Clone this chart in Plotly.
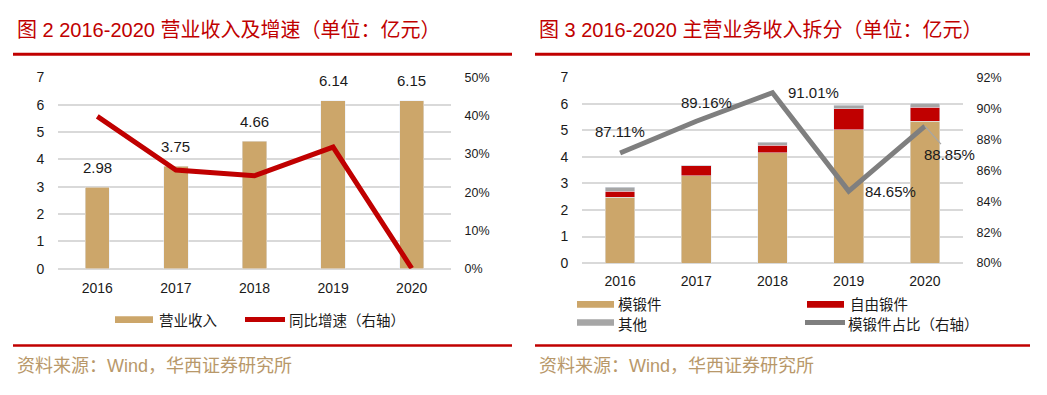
import plotly.graph_objects as go

# page is 1047x395; browser body keeps an 8px margin, so the figure is 1031x379 at (8, 8)
PAGE_W, PAGE_H = 1047, 395
OFF = 8
W, H = PAGE_W - 2 * OFF, PAGE_H - 2 * OFF

# ---------------- data ----------------
years = ["2016", "2017", "2018", "2019", "2020"]
revenue = [2.98, 3.75, 4.66, 6.14, 6.15]            # 营业收入（亿元）
growth = [0.398, 0.258, 0.243, 0.318, 0.0016]       # 同比增速
die_forging = [2.48, 3.29, 4.15, 5.03, 5.35]        # 模锻件
free_forging = [0.23, 0.38, 0.29, 0.79, 0.53]       # 自由锻件
other = [0.14, 0.02, 0.12, 0.12, 0.14]              # 其他
die_share = [0.8711, 0.8916, 0.9101, 0.8465, 0.8885]  # 模锻件占比

left_y_ticks = [0, 1, 2, 3, 4, 5, 6, 7]
left_y2_ticks = [0, 0.1, 0.2, 0.3, 0.4, 0.5]
right_y2_ticks = [0.80, 0.82, 0.84, 0.86, 0.88, 0.90, 0.92]

# ---------------- styles ----------------
TAN = "#CCA66A"
RED = "#C00000"
LGRAY = "#A6A6A6"
DGRAY = "#7F7F7F"
GRID = "#D9D9D9"
TITLE_RED = "#C00000"
SRC = "#B8986A"
TXT = "#1a1a1a"
CJK = "Noto Sans CJK SC"
LAT = "Liberation Sans, Noto Sans CJK SC"


def px(x):
    return (x - OFF) / W


def py(y):
    return 1 - (y - OFF) / H


fig = go.Figure()

# left chart
fig.add_trace(go.Bar(x=years, y=revenue, marker_color=TAN, width=0.31,
                     xaxis="x", yaxis="y", showlegend=False, name="营业收入"))
fig.add_trace(go.Scatter(x=years, y=growth, mode="lines",
                         line=dict(color=RED, width=5),
                         xaxis="x", yaxis="y2", showlegend=False, name="同比增速（右轴）"))

# right chart
for vals, col, nm in [(die_forging, TAN, "模锻件"), (free_forging, RED, "自由锻件"), (other, LGRAY, "其他")]:
    fig.add_trace(go.Bar(x=years, y=vals, marker_color=col, width=0.39,
                         xaxis="x2", yaxis="y3", showlegend=False, name=nm))
fig.add_trace(go.Scatter(x=years, y=die_share, mode="lines",
                         line=dict(color=DGRAY, width=5),
                         xaxis="x2", yaxis="y4", showlegend=False, name="模锻件占比（右轴）"))

tickfont = dict(family=LAT, size=14, color=TXT)
rtickfont = dict(family=LAT, size=12.5, color=TXT)

fig.update_layout(
    width=W, height=H,
    margin=dict(l=0, r=0, t=0, b=0),
    paper_bgcolor="white", plot_bgcolor="white",
    barmode="stack",
    font=dict(family=LAT, color=TXT),
    xaxis=dict(domain=[px(58), px(451)], anchor="y", type="category", range=[-0.5, 4.5],
               showgrid=False, showline=False, ticks="outside", ticklen=6,
               tickcolor="rgba(0,0,0,0)", tickfont=tickfont),
    yaxis=dict(domain=[py(272), py(72)], anchor="x", range=[0, 7], tickvals=left_y_ticks,
               showgrid=True, gridcolor=GRID, gridwidth=1.5, zeroline=True,
               zerolinecolor=GRID, zerolinewidth=1.5, showline=False,
               ticks="outside", ticklen=10, tickcolor="rgba(0,0,0,0)", tickfont=tickfont),
    yaxis2=dict(overlaying="y", side="right", anchor="x", range=[0, 0.5],
                tickvals=left_y2_ticks, tickformat=".0%", showgrid=False, zeroline=False,
                ticks="outside", ticklen=10, tickcolor="rgba(0,0,0,0)", tickfont=rtickfont),
    xaxis2=dict(domain=[px(582), px(963)], anchor="y3", type="category", range=[-0.5, 4.5],
                showgrid=False, showline=False, ticks="outside", ticklen=5,
                tickcolor="rgba(0,0,0,0)", tickfont=tickfont),
    yaxis3=dict(domain=[py(266), py(72)], anchor="x2", range=[0, 7], tickvals=left_y_ticks,
                showgrid=True, gridcolor=GRID, gridwidth=1.5, zeroline=True,
                zerolinecolor=GRID, zerolinewidth=1.5, showline=False,
                ticks="outside", ticklen=10, tickcolor="rgba(0,0,0,0)", tickfont=tickfont),
    yaxis4=dict(overlaying="y3", side="right", anchor="x2", range=[0.80, 0.92],
                tickvals=right_y2_ticks, tickformat=".0%", showgrid=False, zeroline=False,
                ticks="outside", ticklen=10, tickcolor="rgba(0,0,0,0)", tickfont=rtickfont),
)

ann = []
shapes = []

# titles
ann.append(dict(xref="paper", yref="paper", x=px(15), y=py(23), xanchor="left", yanchor="middle",
                text="图 2 2016-2020 营业收入及增速（单位：亿元）", showarrow=False,
                font=dict(family=LAT, size=20, color=TITLE_RED)))
ann.append(dict(xref="paper", yref="paper", x=px(537), y=py(23), xanchor="left", yanchor="middle",
                text="图 3 2016-2020 主营业务收入拆分（单位：亿元）", showarrow=False,
                font=dict(family=LAT, size=20, color=TITLE_RED)))
# sources
for x0 in (15, 537):
    ann.append(dict(xref="paper", yref="paper", x=px(x0), y=py(373), xanchor="left", yanchor="middle",
                    text="资料来源：Wind，华西证券研究所", showarrow=False,
                    font=dict(family=LAT, size=18, color=SRC)))

# red separator lines
for (x0, x1) in [(13, 512), (535, 1030)]:
    shapes.append(dict(type="line", xref="paper", yref="paper", x0=px(x0), x1=px(x1),
                       y0=py(48), y1=py(48), line=dict(color=TITLE_RED, width=3)))
    shapes.append(dict(type="line", xref="paper", yref="paper", x0=px(x0), x1=px(x1),
                       y0=py(352), y1=py(352), line=dict(color=TITLE_RED, width=2.5)))

# bar value labels (left) -- category axis positions given by index
for i, v in enumerate(revenue):
    ann.append(dict(xref="x", yref="y", x=i, y=v, yshift=20, showarrow=False,
                    text=f"{v:.2f}", font=dict(family=LAT, size=15, color=TXT)))

# line value labels (right)
label_dx = [0, 10, 41, 42, 25]
label_dy = [22, 19, 0, 0, -28]
for i, v in enumerate(die_share):
    if i == 4:
        ann.append(dict(xref="x2", yref="y4", x=i, y=v, showarrow=True, ax=label_dx[i],
                        ay=-label_dy[i], arrowhead=0, arrowwidth=1.3, arrowcolor=LGRAY,
                        standoff=0, text=f"{v*100:.2f}%",
                        font=dict(family=LAT, size=15, color=TXT)))
    else:
        ann.append(dict(xref="x2", yref="y4", x=i, y=v, xshift=label_dx[i], yshift=label_dy[i],
                        showarrow=False, text=f"{v*100:.2f}%",
                        font=dict(family=LAT, size=15, color=TXT)))


# legends (manual)
def rect_swatch(x0, x1, yc, col):
    shapes.append(dict(type="rect", xref="paper", yref="paper", x0=px(x0), x1=px(x1),
                       y0=py(yc + 3.5), y1=py(yc - 3.5), line=dict(width=0), fillcolor=col))


def line_swatch(x0, x1, yc, col):
    shapes.append(dict(type="line", xref="paper", yref="paper", x0=px(x0), x1=px(x1),
                       y0=py(yc), y1=py(yc), line=dict(color=col, width=5)))


def leg_text(x, yc, t):
    ann.append(dict(xref="paper", yref="paper", x=px(x), y=py(yc), xanchor="left", yanchor="middle",
                    text=t, showarrow=False, borderpad=0,
                    font=dict(family=CJK, size=14.5, color=TXT)))


rect_swatch(115, 153, 325, TAN)
leg_text(158, 325, "营业收入")
line_swatch(245, 285, 325, RED)
leg_text(288, 325, "同比增速（右轴）")

rect_swatch(577, 614, 309, TAN)
leg_text(617, 308, "模锻件")
rect_swatch(807, 844, 309, RED)
leg_text(849, 308, "自由锻件")
rect_swatch(577, 614, 328, LGRAY)
leg_text(617, 329, "其他")
line_swatch(805, 845, 328, DGRAY)
leg_text(847, 329, "模锻件占比（右轴）")

fig.update_layout(annotations=ann, shapes=shapes)

fig.write_html("out.html")
